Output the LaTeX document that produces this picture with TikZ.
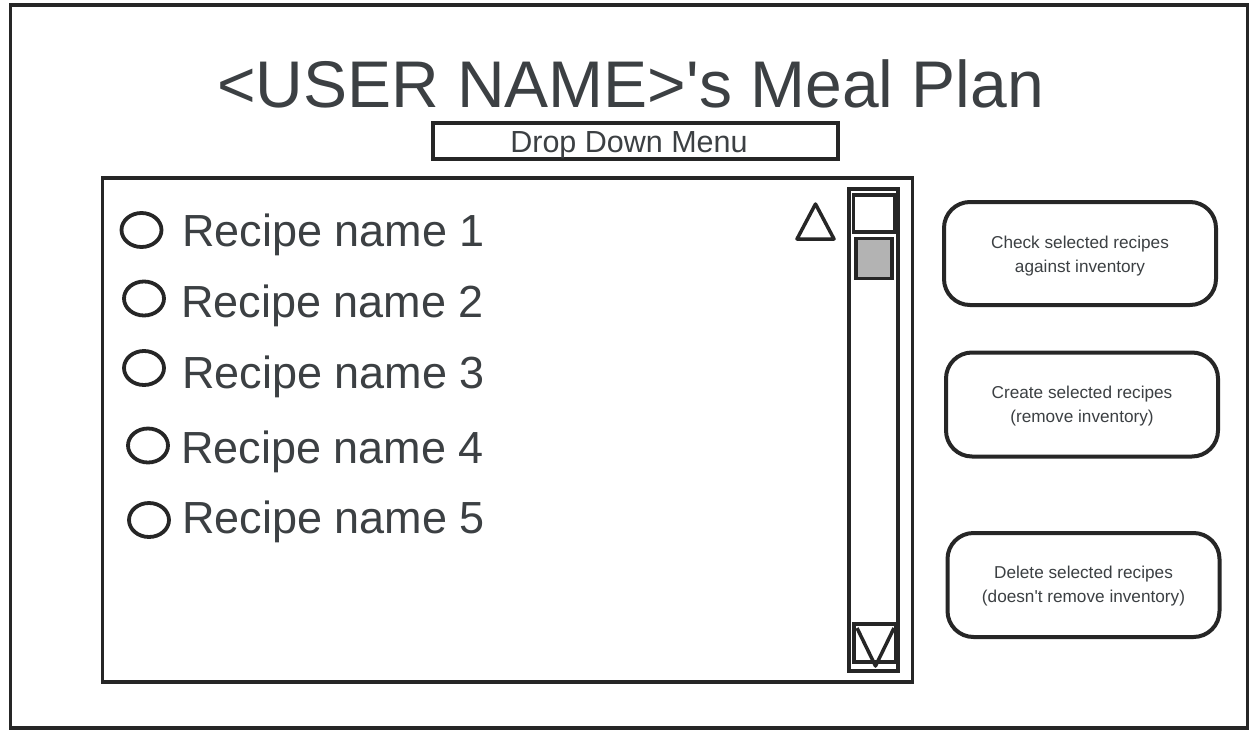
\documentclass[tikz,border=0pt]{standalone}
\usepackage{fontspec}
\setmainfont{Liberation Sans}[Ligatures=TeXOff]
\usetikzlibrary{shapes.geometric}
\definecolor{ln}{HTML}{262626}
\definecolor{tx}{HTML}{3C4043}
\definecolor{thumb}{HTML}{B3B3B3}
\begin{document}
\begin{tikzpicture}[x=1pt,y=-1pt,
  frame/.style={draw=ln,line width=3.5pt},
  box/.style={draw=ln,line width=3.5pt,inner sep=0pt,outer sep=0pt},
  btn/.style={draw=ln,line width=4pt,rounded corners=26pt,inner sep=0pt},
  btext/.style={align=center,inner sep=0pt,text=tx,font=\fontsize{17.2}{24}\selectfont},
  rtext/.style={anchor=base west,inner sep=0pt,text=tx,font=\fontsize{45}{50}\selectfont},
  radio/.style={draw=ln,line width=3.8pt,ellipse,minimum width=40pt,minimum height=34pt,inner sep=0pt}]
\useasboundingbox (0,0) rectangle (1256,737);
\fill[white] (0,0) rectangle (1256,737);
% outer frame
\node[box,minimum width=1237pt,minimum height=723pt] (outer) at (629,366.5) {};
% title
\node[anchor=base,inner sep=0pt,text=tx,font=\fontsize{66}{70}\selectfont] (title) at (630.5,107) {<USER NAME>'s Meal Plan};
% drop down
\node[box,minimum width=405pt,minimum height=36pt] (dd) at (635.5,141) {};
\node[anchor=base,inner sep=0pt,text=tx,font=\fontsize{30.5}{34}\selectfont] (ddt) at (629,152) {Drop Down Menu};
% list box
\node[box,minimum width=810pt,minimum height=504pt] (list) at (507.5,430) {};
% radio buttons and names
\node[radio] (c1) at (141.5,230) {};
\node[radio] (c2) at (144,298.5) {};
\node[radio] (c3) at (144,368) {};
\node[radio] (c4) at (148,445.5) {};
\node[radio] (c5) at (149,520) {};
\node[rtext] (r1) at (182,246) {Recipe name 1};
\node[rtext] (r2) at (181,317) {Recipe name 2};
\node[rtext] (r3) at (182,388) {Recipe name 3};
\node[rtext] (r4) at (181,463) {Recipe name 4};
\node[rtext] (r5) at (182,533) {Recipe name 5};
% scrollbar
\node[box,minimum width=49pt,minimum height=482pt] (sb) at (873.5,430) {};
\node[box,minimum width=41pt,minimum height=37pt] (sbtop) at (874,213.5) {};
\node[box,fill=thumb,minimum width=36pt,minimum height=40pt] (th) at (874,258.5) {};
\node[box,minimum width=42pt,minimum height=38pt] (sbbot) at (875,643) {};
\draw[frame,line join=round] (815.5,204) -- (834,239) -- (797,239) -- cycle;
\draw[frame,line join=round] (857,628) -- (875.5,666) -- (894,628);
% buttons
\node[btn,minimum width=272pt,minimum height=103pt] (b1) at (1080,253.5) {};
\node[btn,minimum width=272pt,minimum height=104pt] (b2) at (1082,404.5) {};
\node[btn,minimum width=272pt,minimum height=104pt] (b3) at (1083.5,585) {};
\node[btext] (t1) at ([yshift=-3pt]b1.center) {Check selected recipes\\against inventory};
\node[btext] (t2) at ([yshift=-2pt]b2.center) {Create selected recipes\\(remove inventory)};
\node[btext] (t3) at ([yshift=-1pt]b3.center) {Delete selected recipes\\(doesn't remove inventory)};
\end{tikzpicture}
\end{document}
